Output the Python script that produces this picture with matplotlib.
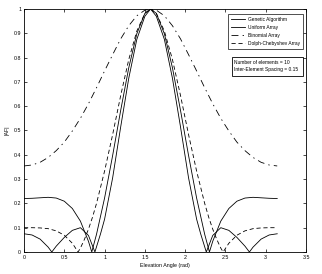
import matplotlib
matplotlib.use("Agg")
import matplotlib.pyplot as plt
from matplotlib.patches import Rectangle

# angles (rad) and |AF|
ga_theta = [0, 0.1, 0.2, 0.3, 0.345, 0.4, 0.5, 0.6, 0.7, 0.8, 0.88, 0.95, 1.0, 1.1, 1.2, 1.3, 1.4, 1.5, 1.571,
            1.642, 1.742, 1.842, 1.942, 2.042, 2.142, 2.192, 2.262, 2.342, 2.442, 2.542, 2.642, 2.742, 2.797,
            2.842, 2.942, 3.042, 3.142]
ga_af = [0.075, 0.070, 0.053, 0.020, 0.0, 0.024, 0.060, 0.089, 0.100, 0.068, 0.0, 0.075, 0.135, 0.305, 0.515,
         0.715, 0.875, 0.970, 1.0,
         0.970, 0.875, 0.715, 0.515, 0.305, 0.135, 0.075, 0.0, 0.068, 0.100, 0.089, 0.060, 0.024, 0.0,
         0.020, 0.053, 0.070, 0.075]

uni_theta = [0, 0.1, 0.2, 0.3, 0.4, 0.5, 0.6, 0.7, 0.8, 0.841, 0.9, 1.0, 1.1, 1.2, 1.3, 1.4, 1.5, 1.571,
             1.642, 1.742, 1.842, 1.942, 2.042, 2.142, 2.242, 2.301, 2.342, 2.442, 2.542, 2.642, 2.742,
             2.842, 2.942, 3.042, 3.142]
uni_af = [0.220, 0.221, 0.223, 0.225, 0.222, 0.209, 0.179, 0.127, 0.044, 0.0, 0.073, 0.222, 0.397, 0.583,
          0.758, 0.898, 0.982, 1.0,
          0.982, 0.898, 0.758, 0.583, 0.397, 0.222, 0.073, 0.0, 0.044, 0.127, 0.179, 0.209, 0.222,
          0.225, 0.223, 0.221, 0.220]

bin_theta = [0, 0.1, 0.2, 0.3, 0.4, 0.5, 0.6, 0.7, 0.8, 0.9, 1.0, 1.1, 1.2, 1.3, 1.4, 1.5, 1.571,
             1.642, 1.742, 1.842, 1.942, 2.042, 2.142, 2.242, 2.342, 2.442, 2.542, 2.642, 2.742, 2.842,
             2.942, 3.042, 3.142]
bin_af = [0.354, 0.358, 0.369, 0.389, 0.417, 0.452, 0.498, 0.550, 0.610, 0.676, 0.745, 0.812, 0.877, 0.931,
          0.972, 0.995, 1.0,
          0.995, 0.972, 0.931, 0.877, 0.812, 0.745, 0.676, 0.610, 0.550, 0.498, 0.452, 0.417, 0.389,
          0.369, 0.358, 0.354]

dc_theta = [0, 0.1, 0.2, 0.3, 0.4, 0.5, 0.6, 0.671, 0.7, 0.75, 0.8, 0.85, 0.9, 1.0, 1.1, 1.2, 1.3, 1.4, 1.5,
            1.571, 1.642, 1.742, 1.842, 1.942, 2.042, 2.142, 2.242, 2.292, 2.342, 2.392, 2.442, 2.471,
            2.542, 2.642, 2.742, 2.842, 2.942, 3.042, 3.142]
dc_af = [0.100, 0.100, 0.099, 0.096, 0.087, 0.069, 0.036, 0.0, 0.016, 0.052, 0.094, 0.143, 0.200, 0.333,
         0.483, 0.644, 0.792, 0.909, 0.982, 1.0,
         0.982, 0.909, 0.792, 0.644, 0.483, 0.333, 0.200, 0.143, 0.094, 0.052, 0.016, 0.0,
         0.036, 0.069, 0.087, 0.096, 0.099, 0.100, 0.100]

x_ticks = [0, 0.5, 1, 1.5, 2, 2.5, 3, 3.5]
x_tick_labels = ["0", "0.5", "1", "1.5", "2", "2.5", "3", "3.5"]
y_ticks = [0, 0.1, 0.2, 0.3, 0.4, 0.5, 0.6, 0.7, 0.8, 0.9, 1]
y_tick_labels = ["0", "0.1", "0.2", "0.3", "0.4", "0.5", "0.6", "0.7", "0.8", "0.9", "1"]

plt.rcParams['font.family'] = ['Liberation Sans', 'DejaVu Sans']
plt.rcParams['lines.scale_dashes'] = False

fig = plt.figure(figsize=(3.22, 2.74), dpi=100)
ax = fig.add_axes([0.0745, 0.0803, 0.876, 0.887])

lw = 0.6
ax.plot(ga_theta, ga_af, color='black', linewidth=lw, label="Genetic Algorithm")
ax.plot(uni_theta, uni_af, color='black', linewidth=lw, label="Uniform Array")
ax.plot(bin_theta, bin_af, color='black', linewidth=lw, dashes=(5, 3, 1, 3), label="Binomial Array")
ax.plot(dc_theta, dc_af, color='black', linewidth=lw, dashes=(3, 2), label="Dolph-Chebyshev Array")

ax.set_xlim(0, 3.5)
ax.set_ylim(0, 1)
ax.set_xticks(x_ticks)
ax.set_xticklabels(x_tick_labels)
ax.set_yticks(y_ticks)
ax.set_yticklabels(y_tick_labels)
ax.tick_params(direction='in', length=2.5, width=0.5, labelsize=3.8, pad=2,
               top=True, right=True)
for s in ax.spines.values():
    s.set_linewidth(0.6)

ax.set_xlabel("Elevation Angle (rad)", fontsize=3.8, labelpad=2)
ax.set_ylabel("|AF|", fontsize=3.8, labelpad=3)

leg = ax.legend(loc='upper right', bbox_to_anchor=(0.988, 0.979), fontsize=3.5,
                frameon=True, fancybox=False, handlelength=2.9, handletextpad=0.5,
                labelspacing=0.6, borderpad=0.6, borderaxespad=0)
leg.get_frame().set_edgecolor('black')
leg.get_frame().set_linewidth(0.6)

ax.add_patch(Rectangle((0.737, 0.724), 0.251, 0.080, transform=ax.transAxes,
                       fill=False, edgecolor='black', linewidth=0.6))
ax.text(0.745, 0.781, "Number of elements = 10", transform=ax.transAxes, fontsize=3.5, va='center')
ax.text(0.745, 0.752, "Inter-Element Spacing = 0.15", transform=ax.transAxes, fontsize=3.5, va='center')

fig.savefig("out.png", dpi=100)
